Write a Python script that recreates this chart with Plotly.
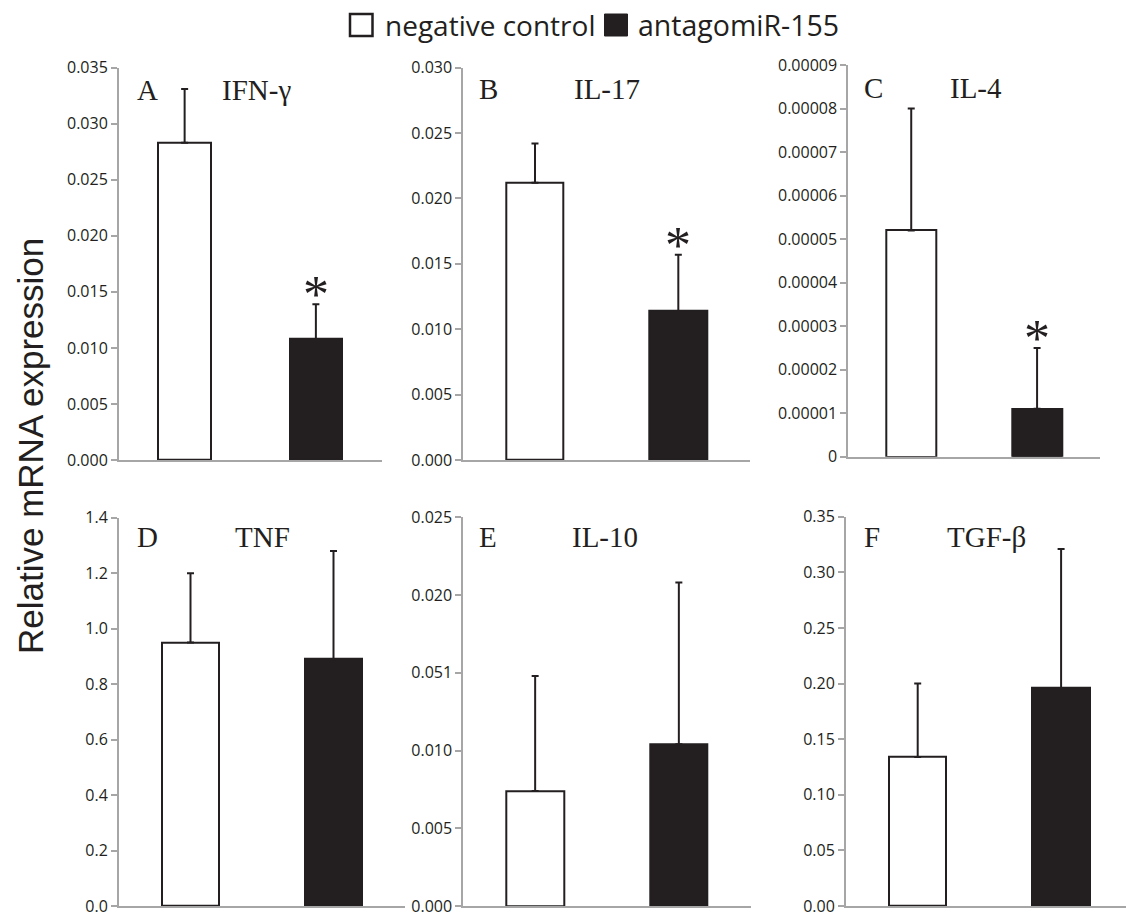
import plotly.graph_objects as go

W, H = 1126, 918

# ---------------- data ----------------
panel_letters = ["A", "B", "C", "D", "E", "F"]
cytokines = ["IFN-γ", "IL-17", "IL-4", "TNF", "IL-10", "TGF-β"]
groups = ["negative control", "antagomiR-155"]

nc_mean = [0.0283, 0.0212, 0.000052, 0.95, 0.0074, 0.134]
nc_err = [0.0048, 0.0030, 0.000028, 0.25, 0.0074, 0.066]
ant_mean = [0.0108, 0.0114, 0.000011, 0.89, 0.0104, 0.196]
ant_err = [0.0031, 0.0043, 0.000014, 0.39, 0.0104, 0.125]
significant = [True, True, True, False, False, False]

y_max = [0.035, 0.030, 0.00009, 1.4, 0.025, 0.35]
tick_vals = [
    [0.000, 0.005, 0.010, 0.015, 0.020, 0.025, 0.030, 0.035],
    [0.000, 0.005, 0.010, 0.015, 0.020, 0.025, 0.030],
    [0, 0.00001, 0.00002, 0.00003, 0.00004, 0.00005, 0.00006, 0.00007, 0.00008, 0.00009],
    [0.0, 0.2, 0.4, 0.6, 0.8, 1.0, 1.2, 1.4],
    [0.000, 0.005, 0.010, 0.015, 0.020, 0.025],
    [0.00, 0.05, 0.10, 0.15, 0.20, 0.25, 0.30, 0.35],
]
tick_text = [
    ["0.000", "0.005", "0.010", "0.015", "0.020", "0.025", "0.030", "0.035"],
    ["0.000", "0.005", "0.010", "0.015", "0.020", "0.025", "0.030"],
    ["0", "0.00001", "0.00002", "0.00003", "0.00004", "0.00005", "0.00006", "0.00007", "0.00008", "0.00009"],
    ["0.0", "0.2", "0.4", "0.6", "0.8", "1.0", "1.2", "1.4"],
    ["0.000", "0.005", "0.010", "0.051", "0.020", "0.025"],
    ["0.00", "0.05", "0.10", "0.15", "0.20", "0.25", "0.30", "0.35"],
]
y_title = "Relative mRNA expression"

# ---------------- layout (pixel boxes) ----------------
# (x_left, x_right, y_top, y_bottom, x_range_max)
boxes = [
    (119, 381.5, 67.7, 460, 1.5),
    (463.3, 750, 67.7, 460, 1.5),
    (848.3, 1100, 65, 456.7, 1.5),
    (119, 405, 517.7, 906, 1.5),
    (463.3, 750.7, 517.3, 906, 1.5),
    (846, 1126, 516.7, 906, 1.4526),
]
# letter x, name x, center y
label_pos = [
    (135, 220, 90),
    (477, 572, 89),
    (862, 948, 88),
    (135, 233, 537),
    (477, 570, 537),
    (862, 945, 537),
]

AX = "#a6a6a6"
INK = "#231f20"
TICKFONT = dict(family="Open Sans", size=16, color=INK)
SERIF = "Liberation Serif"


def px(x):
    return x / W


def py(y):
    return 1 - y / H


fig = go.Figure()
annotations = []

for i in range(6):
    n = "" if i == 0 else str(i + 1)
    xa, ya = "x" + n, "y" + n
    x0, x1, yt, yb, xr = boxes[i]
    fig.add_trace(go.Bar(
        x=[0, 1],
        y=[nc_mean[i], ant_mean[i]],
        width=0.4,
        marker=dict(color=["white", INK], line=dict(color=INK, width=2)),
        error_y=dict(type="data", array=[nc_err[i], ant_err[i]], arrayminus=[0, 0],
                     symmetric=False, color=INK, thickness=2, width=3.5),
        xaxis=xa, yaxis=ya, showlegend=False, name=cytokines[i],
    ))
    fig.layout["xaxis" + n] = dict(
        domain=[px(x0), px(x1)], anchor=ya, range=[-0.5, xr], automargin=False,
        showline=True, linecolor=AX, linewidth=2, showticklabels=False,
        ticks="", showgrid=False, zeroline=False, fixedrange=True,
    )
    fig.layout["yaxis" + n] = dict(
        domain=[py(yb), py(yt)], anchor=xa, range=[0, y_max[i]], automargin=False,
        showline=True, linecolor=AX, linewidth=2, ticks="outside", ticklen=6,
        tickwidth=1.5, tickcolor=AX, tickvals=tick_vals[i], ticktext=tick_text[i],
        tickfont=TICKFONT, ticklabeloverflow="allow",
        showgrid=False, zeroline=False, fixedrange=True,
    )
    lx, nx, cy = label_pos[i]
    annotations.append(dict(text=panel_letters[i], xref="paper", yref="paper",
                            x=px(lx), y=py(cy), xanchor="left", yanchor="middle",
                            showarrow=False, font=dict(family=SERIF, size=29, color=INK)))
    annotations.append(dict(text=cytokines[i], xref="paper", yref="paper",
                            x=px(nx), y=py(cy), xanchor="left", yanchor="middle",
                            showarrow=False, font=dict(family=SERIF, size=29, color=INK)))
    if significant[i]:
        annotations.append(dict(text="*", xref=xa, yref=ya, x=1,
                                y=ant_mean[i] + ant_err[i], xanchor="center",
                                yanchor="bottom", yshift=-21, showarrow=False,
                                font=dict(family=SERIF, size=52, color=INK)))

# y title
annotations.append(dict(text=y_title, xref="paper", yref="paper", x=px(30), y=py(446),
                        xanchor="center", yanchor="middle", textangle=-90, showarrow=False,
                        font=dict(family="Liberation Sans", size=35, color=INK)))

# legend
shapes = [
    dict(type="rect", xref="paper", yref="paper", x0=px(350), x1=px(372.5),
         y0=py(36), y1=py(14), line=dict(color=INK, width=2.5), fillcolor="white"),
    dict(type="rect", xref="paper", yref="paper", x0=px(604.5), x1=px(627.5),
         y0=py(36), y1=py(14), line=dict(color=INK, width=1), fillcolor=INK),
]
annotations.append(dict(text=groups[0], xref="paper", yref="paper", x=px(383), y=py(25),
                        xanchor="left", yanchor="middle", showarrow=False,
                        font=dict(family="Open Sans", size=28, color=INK)))
annotations.append(dict(text=groups[1], xref="paper", yref="paper", x=px(636), y=py(25),
                        xanchor="left", yanchor="middle", showarrow=False,
                        font=dict(family="Open Sans", size=28.5, color=INK)))

fig.update_layout(
    width=W, height=H, margin=dict(l=0, r=0, t=0, b=0, autoexpand=False),
    paper_bgcolor="white", plot_bgcolor="white",
    annotations=annotations, shapes=shapes, bargap=0,
)

fig.write_html("out.html")
